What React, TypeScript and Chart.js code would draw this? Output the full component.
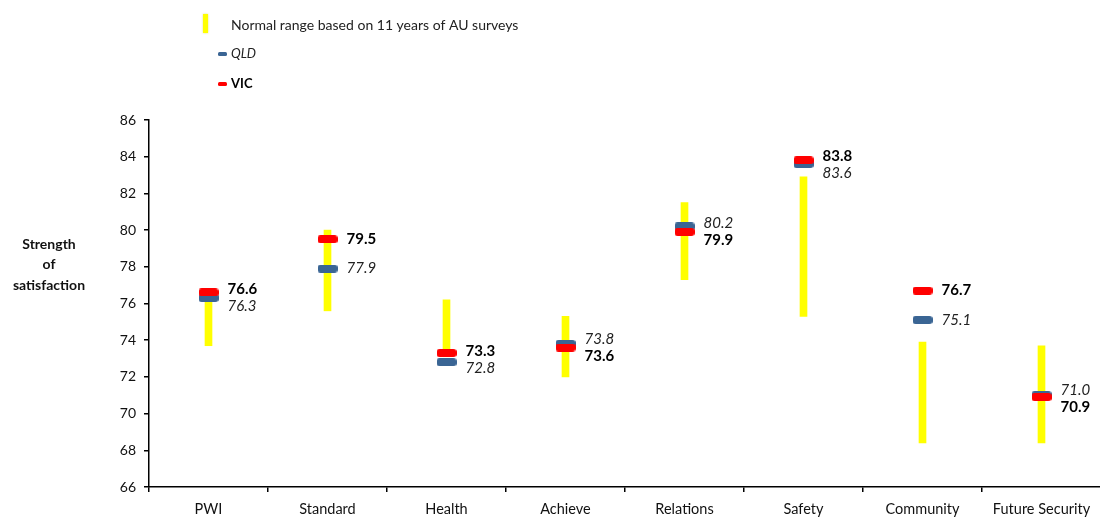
import React, { useEffect, useRef } from "react";
import { Chart, registerables } from "chart.js";

Chart.register(...registerables);

// Satisfaction domains on the x axis
const categories = ["PWI", "Standard", "Health", "Achieve", "Relations", "Safety", "Community", "Future Security"];

// Normal range (low / high) from 11 years of AU surveys
const rangeLow = [73.7, 75.6, 73.1, 72.0, 77.3, 75.3, 68.4, 68.4];
const rangeHigh = [76.4, 80.0, 76.2, 75.3, 81.5, 82.9, 73.9, 73.7];

// State means
const qldValues = [76.3, 77.9, 72.8, 73.8, 80.2, 83.6, 75.1, 71.0];
const vicValues = [76.6, 79.5, 73.3, 73.6, 79.9, 83.8, 76.7, 70.9];

// Y axis tick range
const yTicks = [66, 68, 70, 72, 74, 76, 78, 80, 82, 84, 86];

const legendRangeText = "Normal range based on 11 years of AU surveys";
const legendQld = "QLD";
const legendVic = "VIC";
const yTitleLines = ["Strength", "of", "satisfaction"];

const YELLOW = "#FFFF00";
const BLUE = "#3A6594";
const RED = "#FF0000";
const FONT = "Lato, 'Open Sans', sans-serif";

function markerImage(color: string): HTMLCanvasElement {
  const c = document.createElement("canvas");
  c.width = 20;
  c.height = 8;
  const g = c.getContext("2d")!;
  g.fillStyle = color;
  g.beginPath();
  (g as any).roundRect(0, 0, 20, 8, 3);
  g.fill();
  return c;
}

const valueLabels = {
  id: "valueLabels",
  afterDatasetsDraw(chart: any) {
    const { ctx, scales } = chart;
    const xs = scales.x;
    const ys = scales.y;
    ctx.save();
    ctx.textBaseline = "middle";
    ctx.textAlign = "left";
    categories.forEach((_, i) => {
      const x = xs.getPixelForValue(i) + 19;
      let yV = ys.getPixelForValue(vicValues[i]);
      let yQ = ys.getPixelForValue(qldValues[i]);
      const gap = 17;
      if (Math.abs(yV - yQ) < gap) {
        const mid = (yV + yQ) / 2 + 2;
        if (vicValues[i] >= qldValues[i]) {
          yV = mid - gap / 2;
          yQ = mid + gap / 2;
        } else {
          yQ = mid - gap / 2;
          yV = mid + gap / 2;
        }
      }
      ctx.fillStyle = "#000";
      ctx.font = `bold 15px ${FONT}`;
      ctx.fillText(vicValues[i].toFixed(1), x, yV);
      ctx.fillStyle = "#222";
      ctx.font = `italic 15px ${FONT}`;
      ctx.fillText(qldValues[i].toFixed(1), x, yQ);
    });
    ctx.restore();
  },
};

const legendAndTitle = {
  id: "legendAndTitle",
  afterDraw(chart: any) {
    const { ctx } = chart;
    ctx.save();
    // legend: range bar
    ctx.shadowColor = "rgba(200,200,0,0.6)";
    ctx.shadowBlur = 2;
    ctx.fillStyle = YELLOW;
    ctx.fillRect(203, 14, 5, 19);
    ctx.shadowBlur = 0;
    ctx.shadowColor = "transparent";
    ctx.textBaseline = "middle";
    ctx.textAlign = "left";
    ctx.fillStyle = "#222";
    ctx.font = `14px ${FONT}`;
    ctx.fillText(legendRangeText, 231, 25);
    // legend: QLD
    ctx.fillStyle = BLUE;
    ctx.beginPath();
    ctx.roundRect(218, 52, 9, 4, 1.5);
    ctx.fill();
    ctx.fillStyle = "#222";
    ctx.font = `italic 13px ${FONT}`;
    ctx.fillText(legendQld, 231, 54);
    // legend: VIC
    ctx.fillStyle = RED;
    ctx.beginPath();
    ctx.roundRect(218, 82, 9, 4, 1.5);
    ctx.fill();
    ctx.fillStyle = "#000";
    ctx.font = `bold 13px ${FONT}`;
    ctx.fillText(legendVic, 231, 84);
    // y axis title
    ctx.textAlign = "center";
    ctx.font = `bold 14px ${FONT}`;
    ctx.fillStyle = "#111";
    yTitleLines.forEach((t, k) => ctx.fillText(t, 49, 244 + k * 20.5));
    ctx.restore();
  },
};

export default function App() {
  const ref = useRef<HTMLCanvasElement | null>(null);

  useEffect(() => {
    if (!ref.current) return;
    const chart = new Chart(ref.current, {
      type: "bar",
      data: {
        labels: categories,
        datasets: [
          {
            type: "line",
            label: legendVic,
            data: vicValues,
            showLine: false,
            pointStyle: markerImage(RED),
            order: 0,
          } as any,
          {
            type: "line",
            label: legendQld,
            data: qldValues,
            showLine: false,
            pointStyle: markerImage(BLUE),
            order: 1,
          } as any,
          {
            type: "bar",
            label: legendRangeText,
            data: categories.map((_, i) => [rangeLow[i], rangeHigh[i]]),
            backgroundColor: YELLOW,
            barThickness: 7,
            borderWidth: 0,
            order: 2,
          } as any,
        ],
      },
      options: {
        animation: false,
        responsive: false,
        maintainAspectRatio: false,
        layout: { padding: { left: 0, top: 120, right: 3, bottom: 0 } },
        plugins: { legend: { display: false }, tooltip: { enabled: false } },
        scales: {
          x: {
            type: "category",
            offset: true,
            grid: {
              offset: true,
              drawOnChartArea: false,
              drawTicks: true,
              tickLength: 5,
              color: "#000",
              lineWidth: 1.5,
            },
            border: { display: true, color: "#000", width: 1.5 },
            ticks: {
              color: "#111",
              font: { family: FONT, size: 14.5 },
              padding: 9,
              maxRotation: 0,
              autoSkip: false,
            },
            afterFit: (s: any) => {
              s.height = 33;
            },
          },
          y: {
            min: yTicks[0],
            max: yTicks[yTicks.length - 1],
            afterBuildTicks: (s: any) => {
              s.ticks = yTicks.map((v) => ({ value: v }));
            },
            grid: {
              drawOnChartArea: false,
              drawTicks: true,
              tickLength: 5,
              color: "#000",
              lineWidth: 1.5,
            },
            border: { display: true, color: "#000", width: 1.5 },
            ticks: {
              color: "#111",
              font: { family: FONT, size: 14 },
              padding: 8,
            },
            afterFit: (s: any) => {
              s.width = 149;
            },
          },
        },
      },
      plugins: [valueLabels, legendAndTitle],
    });
    return () => chart.destroy();
  }, []);

  return (
    <div
      style={{
        position: "fixed",
        left: 0,
        top: 0,
        width: 1100,
        height: 520,
        overflow: "hidden",
        background: "#fff",
      }}
    >
      <canvas ref={ref} width={1106} height={520} style={{ width: 1106, height: 520, display: "block" }} />
    </div>
  );
}
